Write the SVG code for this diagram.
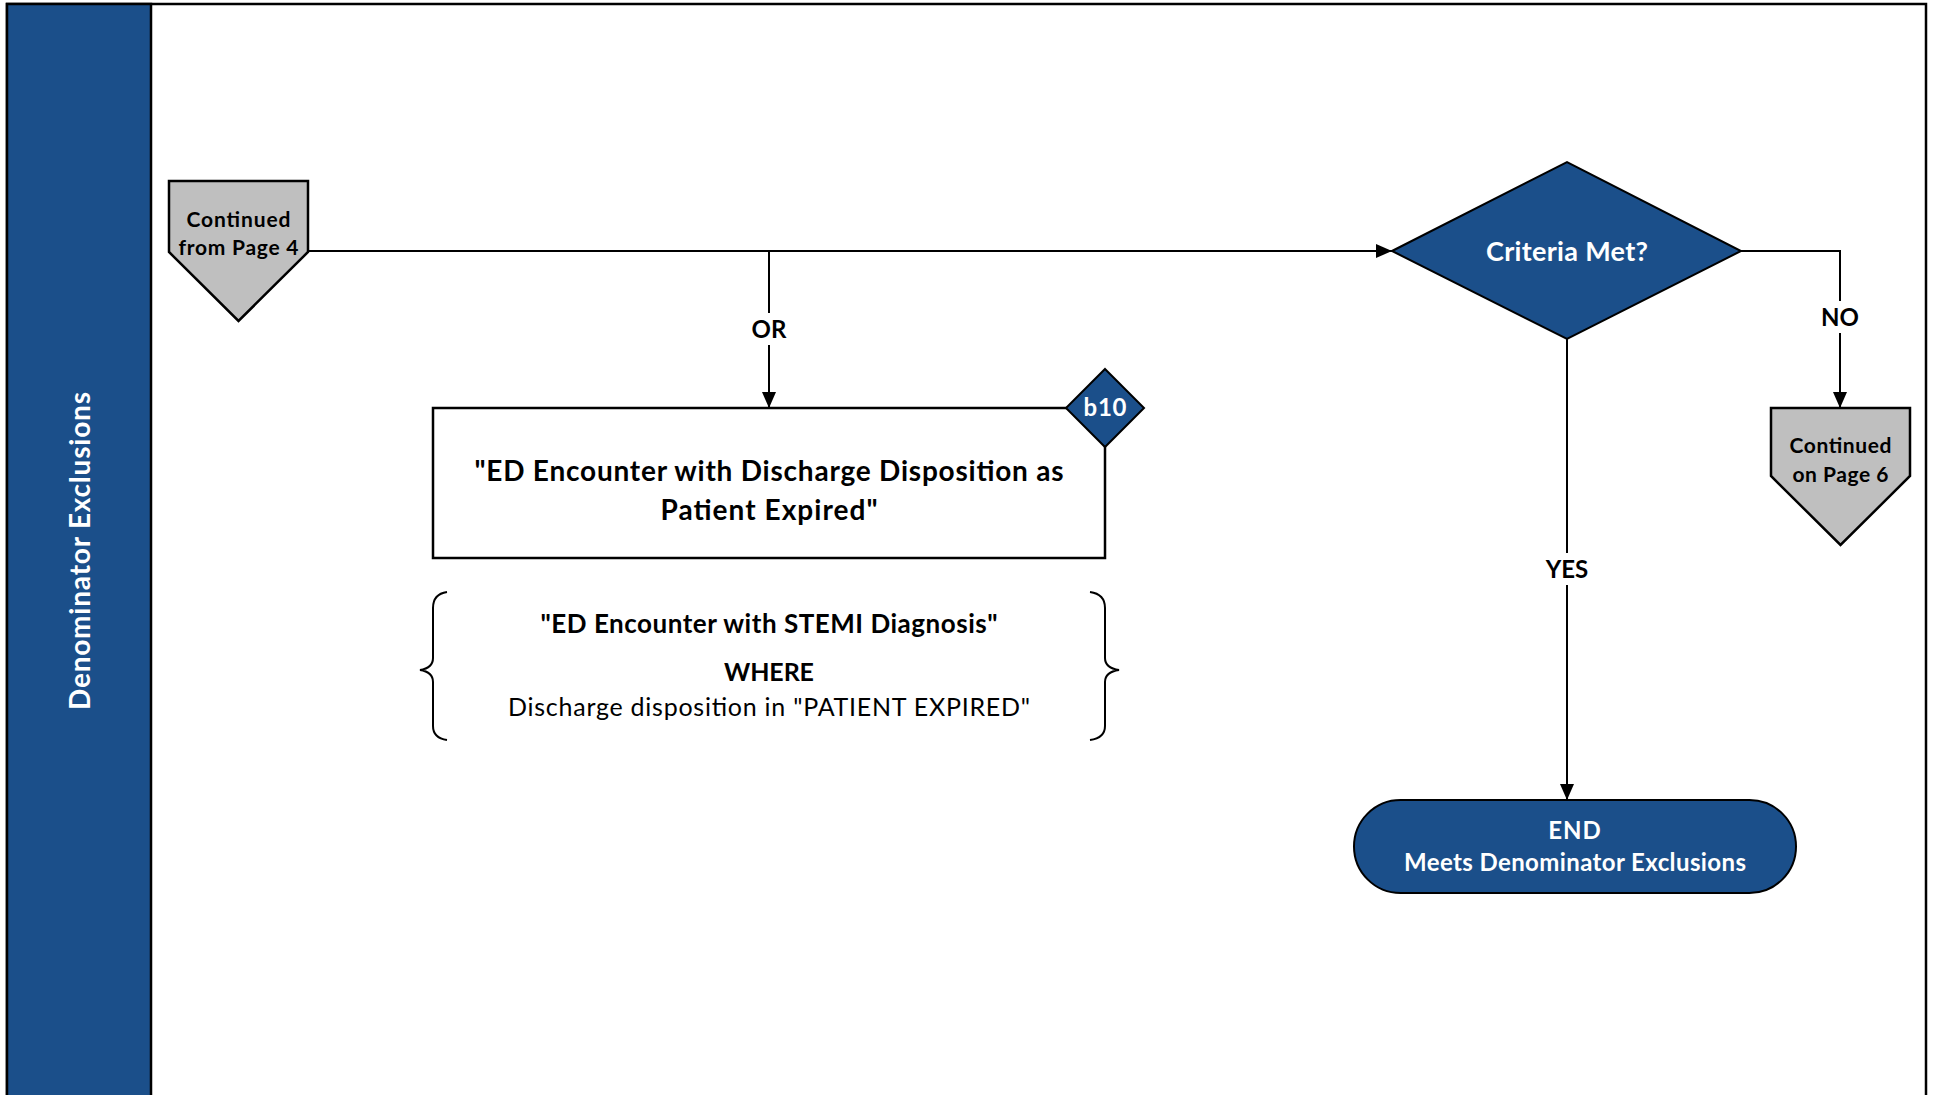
<svg xmlns="http://www.w3.org/2000/svg" width="1935" height="1095" viewBox="0 0 1935 1095">
<style>
.t{font-family:Lato,"Open Sans","Liberation Sans",sans-serif;text-anchor:middle}
.b{font-weight:bold}
.w{fill:#ffffff}
.k{fill:#000000}
.ln{fill:none;stroke:#000;stroke-width:2}
.blue{fill:#1B4F8A;stroke:#000;stroke-width:2}
.gray{fill:#BFBFBF;stroke:#000;stroke-width:2.5}
</style>
<defs>
<marker id="ah" viewBox="0 0 16 14" refX="16" refY="7" markerWidth="16" markerHeight="14" markerUnits="userSpaceOnUse" orient="auto">
<path d="M0,0 L16,7 L0,14 Z" fill="#000"/>
</marker>
</defs>
<rect width="1935" height="1095" fill="#ffffff"/>
<g id="lane">
<rect x="7" y="4" width="1919" height="1095" fill="#fff" stroke="#000" stroke-width="2.5"/>
<rect x="7" y="4" width="144" height="1095" fill="#1B4F8A" stroke="#000" stroke-width="2.5"/>
<text class="t b w" font-size="28" transform="translate(80,551) rotate(-90)" y="10" textLength="318">Denominator Exclusions</text>
</g>
<g id="connectors">
<path class="ln" d="M308,251 H1392" marker-end="url(#ah)"/>
<path class="ln" d="M769,251 V408" marker-end="url(#ah)"/>
<path class="ln" d="M1741,251 H1840 V408" marker-end="url(#ah)"/>
<path class="ln" d="M1567,339 V800" marker-end="url(#ah)"/>
<rect x="745" y="313" width="48" height="32" fill="#fff"/>
<text class="t b k" font-size="24" x="769" y="338">OR</text>
<rect x="1816" y="301" width="48" height="32" fill="#fff"/>
<text class="t b k" font-size="24" x="1840" y="326">NO</text>
<rect x="1537" y="553" width="60" height="32" fill="#fff"/>
<text class="t b k" font-size="24" x="1567" y="578">YES</text>
</g>
<g id="from-page-4">
<polygon class="gray" points="169,181 308,181 308,252 238.5,321 169,252"/>
<text class="t b k" font-size="21" x="238.5" y="227" textLength="104">Continued</text>
<text class="t b k" font-size="21" x="238.5" y="255" textLength="120">from Page 4</text>
</g>
<g id="criteria">
<polygon class="blue" points="1392,251 1567,162 1741,251 1567,339"/>
<text class="t b w" font-size="27" x="1567" y="261" textLength="162">Criteria Met?</text>
</g>
<g id="on-page-6">
<polygon class="gray" points="1771,408 1910,408 1910,476 1840.5,545 1771,476"/>
<text class="t b k" font-size="21" x="1840.5" y="453" textLength="102">Continued</text>
<text class="t b k" font-size="21" x="1840.5" y="482" textLength="96">on Page 6</text>
</g>
<g id="b10-box">
<rect x="433" y="408" width="672" height="150" fill="#fff" stroke="#000" stroke-width="2.5"/>
<text class="t b k" font-size="28" x="769" y="481" textLength="589">"ED Encounter with Discharge Disposition as</text>
<text class="t b k" font-size="28" x="769" y="520" textLength="217">Patient Expired"</text>
<polygon class="blue" points="1105,369 1144,408 1105,447 1066,408"/>
<text class="t b w" font-size="24" x="1105" y="416" textLength="43">b10</text>
</g>
<g id="criteria-note">
<path class="ln" d="M447,592 Q433,594 433,608 V658 Q433,668 420,670 Q433,672 433,682 V726 Q433,738 447,740"/>
<path class="ln" d="M1090,592 Q1105,594 1105,608 V658 Q1105,668 1119,670 Q1105,672 1105,682 V726 Q1105,738 1090,740"/>
<text class="t b k" font-size="26" x="769" y="633" textLength="457">"ED Encounter with STEMI Diagnosis"</text>
<text class="t b k" font-size="25" x="769" y="681" textLength="90">WHERE</text>
<text class="t k" font-size="25" x="769" y="716" textLength="522">Discharge disposition in "PATIENT EXPIRED"</text>
</g>
<g id="end">
<rect x="1354" y="800" width="442" height="93" rx="46.5" ry="46.5" class="blue"/>
<text class="t b w" font-size="24" x="1575" y="839" letter-spacing="1">END</text>
<text class="t b w" font-size="24" x="1575" y="871" textLength="342">Meets Denominator Exclusions</text>
</g>
</svg>
